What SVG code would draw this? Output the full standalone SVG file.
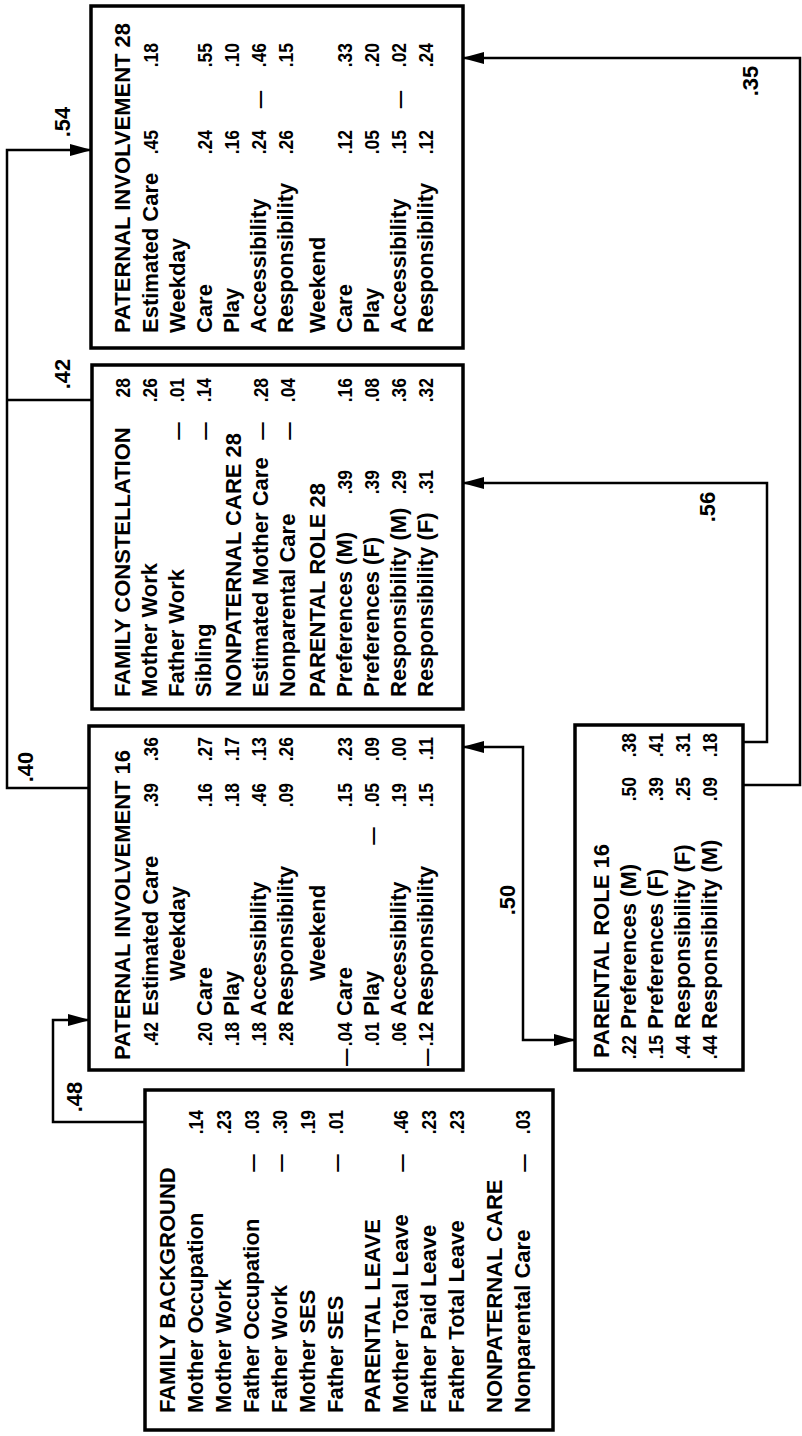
<svg xmlns="http://www.w3.org/2000/svg" width="802" height="1436" viewBox="0 0 802 1436">
<style>
.t{font-family:"Liberation Sans",Arial,Helvetica,sans-serif;font-weight:bold;font-size:22px;fill:#000}
.n{font-size:20.5px}
.e{text-anchor:end}
.m{text-anchor:middle}
.box{fill:#fff;stroke:#000;stroke-width:3.5}
.c{fill:none;stroke:#000;stroke-width:2.5}
</style>
<defs>
<marker id="ah" markerUnits="userSpaceOnUse" markerWidth="22" markerHeight="14" refX="21" refY="7" orient="auto-start-reverse" viewBox="0 0 22 14"><path d="M0,1 L22,7 L0,13 z" fill="#000"/></marker>
</defs>
<rect width="802" height="1436" fill="#fff"/>

<g id="connectors">
<path class="c" d="M88,788 H7 V150 H91" marker-end="url(#ah)"/>
<path class="c" d="M7,400 H92"/>
<path class="c" d="M144,1122 H53 V1020 H89" marker-end="url(#ah)"/>
<path class="c" d="M463,747 H523 V1040 H575" marker-start="url(#ah)" marker-end="url(#ah)"/>
<path class="c" d="M743,742 H767 V483 H463" marker-end="url(#ah)"/>
<path class="c" d="M743,785 H800 V58 H463" marker-end="url(#ah)"/>
<text class="t m" transform="translate(70,122) rotate(-90)">.54</text>
<text class="t m" transform="translate(70,374) rotate(-90)">.42</text>
<text class="t m" transform="translate(33,767) rotate(-90)">.40</text>
<text class="t m" transform="translate(82,1097) rotate(-90)">.48</text>
<text class="t m" transform="translate(515,900) rotate(-90)">.50</text>
<text class="t m" transform="translate(715,507) rotate(-90)">.56</text>
<text class="t m" transform="translate(758,81) rotate(-90)">.35</text>
</g>

<g id="paternal-involvement-28">
<rect class="box" x="91" y="6" width="372" height="342"/>
<text class="t" transform="translate(130,333) rotate(-90)">PATERNAL INVOLVEMENT 28</text>
<text class="t" transform="translate(158,333) rotate(-90)">Estimated Care</text>
<text class="t n e" transform="translate(158,130) rotate(-90) scale(0.85,1)">.45</text>
<text class="t n e" transform="translate(158,43) rotate(-90) scale(0.85,1)">.18</text>
<text class="t" transform="translate(185,333) rotate(-90)">Weekday</text>
<text class="t" transform="translate(212,333) rotate(-90)">Care</text>
<text class="t n e" transform="translate(212,130) rotate(-90) scale(0.85,1)">.24</text>
<text class="t n e" transform="translate(212,43) rotate(-90) scale(0.85,1)">.55</text>
<text class="t" transform="translate(239,333) rotate(-90)">Play</text>
<text class="t n e" transform="translate(239,130) rotate(-90) scale(0.85,1)">.16</text>
<text class="t n e" transform="translate(239,43) rotate(-90) scale(0.85,1)">.10</text>
<text class="t" transform="translate(266,333) rotate(-90)">Accessibility</text>
<text class="t n e" transform="translate(266,130) rotate(-90) scale(0.85,1)">.24</text>
<text class="t n e" transform="translate(266,43) rotate(-90) scale(0.85,1)">— <tspan dx="22">.46</tspan></text>
<text class="t" transform="translate(293,333) rotate(-90)">Responsibility</text>
<text class="t n e" transform="translate(293,130) rotate(-90) scale(0.85,1)">.26</text>
<text class="t n e" transform="translate(293,43) rotate(-90) scale(0.85,1)">.15</text>
<text class="t" transform="translate(325,333) rotate(-90)">Weekend</text>
<text class="t" transform="translate(352,333) rotate(-90)">Care</text>
<text class="t n e" transform="translate(352,130) rotate(-90) scale(0.85,1)">.12</text>
<text class="t n e" transform="translate(352,43) rotate(-90) scale(0.85,1)">.33</text>
<text class="t" transform="translate(379,333) rotate(-90)">Play</text>
<text class="t n e" transform="translate(379,130) rotate(-90) scale(0.85,1)">.05</text>
<text class="t n e" transform="translate(379,43) rotate(-90) scale(0.85,1)">.20</text>
<text class="t" transform="translate(406,333) rotate(-90)">Accessibility</text>
<text class="t n e" transform="translate(406,130) rotate(-90) scale(0.85,1)">.15</text>
<text class="t n e" transform="translate(406,43) rotate(-90) scale(0.85,1)">— <tspan dx="22">.02</tspan></text>
<text class="t" transform="translate(433,333) rotate(-90)">Responsibility</text>
<text class="t n e" transform="translate(433,130) rotate(-90) scale(0.85,1)">.12</text>
<text class="t n e" transform="translate(433,43) rotate(-90) scale(0.85,1)">.24</text>
</g>

<g id="family-constellation">
<rect class="box" x="92" y="365" width="371" height="344"/>
<text class="t" transform="translate(130,697) rotate(-90)">FAMILY CONSTELLATION</text>
<text class="t n e" transform="translate(130,378) rotate(-90) scale(0.85,1)">28</text>
<text class="t" transform="translate(157,697) rotate(-90)">Mother Work</text>
<text class="t n e" transform="translate(157,378) rotate(-90) scale(0.85,1)">.26</text>
<text class="t" transform="translate(184,697) rotate(-90)">Father Work</text>
<text class="t n e" transform="translate(184,378) rotate(-90) scale(0.85,1)">— <tspan dx="18">.01</tspan></text>
<text class="t" transform="translate(211,697) rotate(-90)">Sibling</text>
<text class="t n e" transform="translate(211,378) rotate(-90) scale(0.85,1)">— <tspan dx="18">.14</tspan></text>
<text class="t" transform="translate(241,697) rotate(-90)">NONPATERNAL CARE 28</text>
<text class="t" transform="translate(268,697) rotate(-90)">Estimated Mother Care</text>
<text class="t n e" transform="translate(268,378) rotate(-90) scale(0.85,1)">— <tspan dx="18">.28</tspan></text>
<text class="t" transform="translate(295,697) rotate(-90)">Nonparental Care</text>
<text class="t n e" transform="translate(295,378) rotate(-90) scale(0.85,1)">— <tspan dx="18">.04</tspan></text>
<text class="t" transform="translate(325,697) rotate(-90)">PARENTAL ROLE 28</text>
<text class="t" transform="translate(352,697) rotate(-90)">Preferences (M)</text>
<text class="t n e" transform="translate(352,470) rotate(-90) scale(0.85,1)">.39</text>
<text class="t n e" transform="translate(352,378) rotate(-90) scale(0.85,1)">.16</text>
<text class="t" transform="translate(379,697) rotate(-90)">Preferences (F)</text>
<text class="t n e" transform="translate(379,470) rotate(-90) scale(0.85,1)">.39</text>
<text class="t n e" transform="translate(379,378) rotate(-90) scale(0.85,1)">.08</text>
<text class="t" transform="translate(406,697) rotate(-90)">Responsibility (M)</text>
<text class="t n e" transform="translate(406,470) rotate(-90) scale(0.85,1)">.29</text>
<text class="t n e" transform="translate(406,378) rotate(-90) scale(0.85,1)">.36</text>
<text class="t" transform="translate(433,697) rotate(-90)">Responsibility (F)</text>
<text class="t n e" transform="translate(433,470) rotate(-90) scale(0.85,1)">.31</text>
<text class="t n e" transform="translate(433,378) rotate(-90) scale(0.85,1)">.32</text>
</g>

<g id="paternal-involvement-16">
<rect class="box" x="89" y="726" width="374" height="344"/>
<text class="t" transform="translate(130,1060) rotate(-90)">PATERNAL INVOLVEMENT 16</text>
<text class="t n e" transform="translate(158,1022) rotate(-90) scale(0.85,1)">.42</text>
<text class="t" transform="translate(158,1016) rotate(-90)">Estimated Care</text>
<text class="t n e" transform="translate(158,783) rotate(-90) scale(0.85,1)">.39</text>
<text class="t n e" transform="translate(158,737) rotate(-90) scale(0.85,1)">.36</text>
<text class="t" transform="translate(185,981) rotate(-90)">Weekday</text>
<text class="t n e" transform="translate(212,1022) rotate(-90) scale(0.85,1)">.20</text>
<text class="t" transform="translate(212,1016) rotate(-90)">Care</text>
<text class="t n e" transform="translate(212,783) rotate(-90) scale(0.85,1)">.16</text>
<text class="t n e" transform="translate(212,737) rotate(-90) scale(0.85,1)">.27</text>
<text class="t n e" transform="translate(239,1022) rotate(-90) scale(0.85,1)">.18</text>
<text class="t" transform="translate(239,1016) rotate(-90)">Play</text>
<text class="t n e" transform="translate(239,783) rotate(-90) scale(0.85,1)">.18</text>
<text class="t n e" transform="translate(239,737) rotate(-90) scale(0.85,1)">.17</text>
<text class="t n e" transform="translate(266,1022) rotate(-90) scale(0.85,1)">.18</text>
<text class="t" transform="translate(266,1016) rotate(-90)">Accessibility</text>
<text class="t n e" transform="translate(266,783) rotate(-90) scale(0.85,1)">.46</text>
<text class="t n e" transform="translate(266,737) rotate(-90) scale(0.85,1)">.13</text>
<text class="t n e" transform="translate(293,1022) rotate(-90) scale(0.85,1)">.28</text>
<text class="t" transform="translate(293,1016) rotate(-90)">Responsibility</text>
<text class="t n e" transform="translate(293,783) rotate(-90) scale(0.85,1)">.09</text>
<text class="t n e" transform="translate(293,737) rotate(-90) scale(0.85,1)">.26</text>
<text class="t" transform="translate(325,981) rotate(-90)">Weekend</text>
<text class="t n e" transform="translate(352,1022) rotate(-90) scale(0.85,1)">— <tspan dx="-3">.04</tspan></text>
<text class="t" transform="translate(352,1016) rotate(-90)">Care</text>
<text class="t n e" transform="translate(352,783) rotate(-90) scale(0.85,1)">.15</text>
<text class="t n e" transform="translate(352,737) rotate(-90) scale(0.85,1)">.23</text>
<text class="t n e" transform="translate(379,1022) rotate(-90) scale(0.85,1)">.01</text>
<text class="t" transform="translate(379,1016) rotate(-90)">Play</text>
<text class="t n e" transform="translate(379,783) rotate(-90) scale(0.85,1)">— <tspan dx="18">.05</tspan></text>
<text class="t n e" transform="translate(379,737) rotate(-90) scale(0.85,1)">.09</text>
<text class="t n e" transform="translate(406,1022) rotate(-90) scale(0.85,1)">.06</text>
<text class="t" transform="translate(406,1016) rotate(-90)">Accessibility</text>
<text class="t n e" transform="translate(406,783) rotate(-90) scale(0.85,1)">.19</text>
<text class="t n e" transform="translate(406,737) rotate(-90) scale(0.85,1)">.00</text>
<text class="t n e" transform="translate(433,1022) rotate(-90) scale(0.85,1)">— <tspan dx="-3">.12</tspan></text>
<text class="t" transform="translate(433,1016) rotate(-90)">Responsibility</text>
<text class="t n e" transform="translate(433,783) rotate(-90) scale(0.85,1)">.15</text>
<text class="t n e" transform="translate(433,737) rotate(-90) scale(0.85,1)">.11</text>
</g>

<g id="parental-role-16">
<rect class="box" x="575" y="725" width="168" height="345"/>
<text class="t" transform="translate(609,1058) rotate(-90)">PARENTAL ROLE 16</text>
<text class="t n e" transform="translate(636,1035) rotate(-90) scale(0.85,1)">.22</text>
<text class="t" transform="translate(636,1029) rotate(-90)">Preferences (M)</text>
<text class="t n e" transform="translate(636,777) rotate(-90) scale(0.85,1)">.50</text>
<text class="t n e" transform="translate(636,733) rotate(-90) scale(0.85,1)">.38</text>
<text class="t n e" transform="translate(663,1035) rotate(-90) scale(0.85,1)">.15</text>
<text class="t" transform="translate(663,1029) rotate(-90)">Preferences (F)</text>
<text class="t n e" transform="translate(663,777) rotate(-90) scale(0.85,1)">.39</text>
<text class="t n e" transform="translate(663,733) rotate(-90) scale(0.85,1)">.41</text>
<text class="t n e" transform="translate(690,1035) rotate(-90) scale(0.85,1)">.44</text>
<text class="t" transform="translate(690,1029) rotate(-90)">Responsibility (F)</text>
<text class="t n e" transform="translate(690,777) rotate(-90) scale(0.85,1)">.25</text>
<text class="t n e" transform="translate(690,733) rotate(-90) scale(0.85,1)">.31</text>
<text class="t n e" transform="translate(717,1035) rotate(-90) scale(0.85,1)">.44</text>
<text class="t" transform="translate(717,1029) rotate(-90)">Responsibility (M)</text>
<text class="t n e" transform="translate(717,777) rotate(-90) scale(0.85,1)">.09</text>
<text class="t n e" transform="translate(717,733) rotate(-90) scale(0.85,1)">.18</text>
</g>

<g id="family-background">
<rect class="box" x="145" y="1090" width="408" height="340"/>
<text class="t" transform="translate(175,1413) rotate(-90)">FAMILY BACKGROUND</text>
<text class="t" transform="translate(203,1413) rotate(-90)">Mother Occupation</text>
<text class="t n e" transform="translate(203,1110) rotate(-90) scale(0.85,1)">.14</text>
<text class="t" transform="translate(231,1413) rotate(-90)">Mother Work</text>
<text class="t n e" transform="translate(231,1110) rotate(-90) scale(0.85,1)">.23</text>
<text class="t" transform="translate(259,1413) rotate(-90)">Father Occupation</text>
<text class="t n e" transform="translate(259,1110) rotate(-90) scale(0.85,1)">— <tspan dx="18">.03</tspan></text>
<text class="t" transform="translate(287,1413) rotate(-90)">Father Work</text>
<text class="t n e" transform="translate(287,1110) rotate(-90) scale(0.85,1)">— <tspan dx="18">.30</tspan></text>
<text class="t" transform="translate(315,1413) rotate(-90)">Mother SES</text>
<text class="t n e" transform="translate(315,1110) rotate(-90) scale(0.85,1)">.19</text>
<text class="t" transform="translate(343,1413) rotate(-90)">Father SES</text>
<text class="t n e" transform="translate(343,1110) rotate(-90) scale(0.85,1)">— <tspan dx="18">.01</tspan></text>
<text class="t" transform="translate(380,1413) rotate(-90)">PARENTAL LEAVE</text>
<text class="t" transform="translate(408,1413) rotate(-90)">Mother Total Leave</text>
<text class="t n e" transform="translate(408,1110) rotate(-90) scale(0.85,1)">— <tspan dx="18">.46</tspan></text>
<text class="t" transform="translate(436,1413) rotate(-90)">Father Paid Leave</text>
<text class="t n e" transform="translate(436,1110) rotate(-90) scale(0.85,1)">.23</text>
<text class="t" transform="translate(464,1413) rotate(-90)">Father Total Leave</text>
<text class="t n e" transform="translate(464,1110) rotate(-90) scale(0.85,1)">.23</text>
<text class="t" transform="translate(502,1413) rotate(-90)">NONPATERNAL CARE</text>
<text class="t" transform="translate(530,1413) rotate(-90)">Nonparental Care</text>
<text class="t n e" transform="translate(530,1110) rotate(-90) scale(0.85,1)">— <tspan dx="18">.03</tspan></text>
</g>
</svg>
